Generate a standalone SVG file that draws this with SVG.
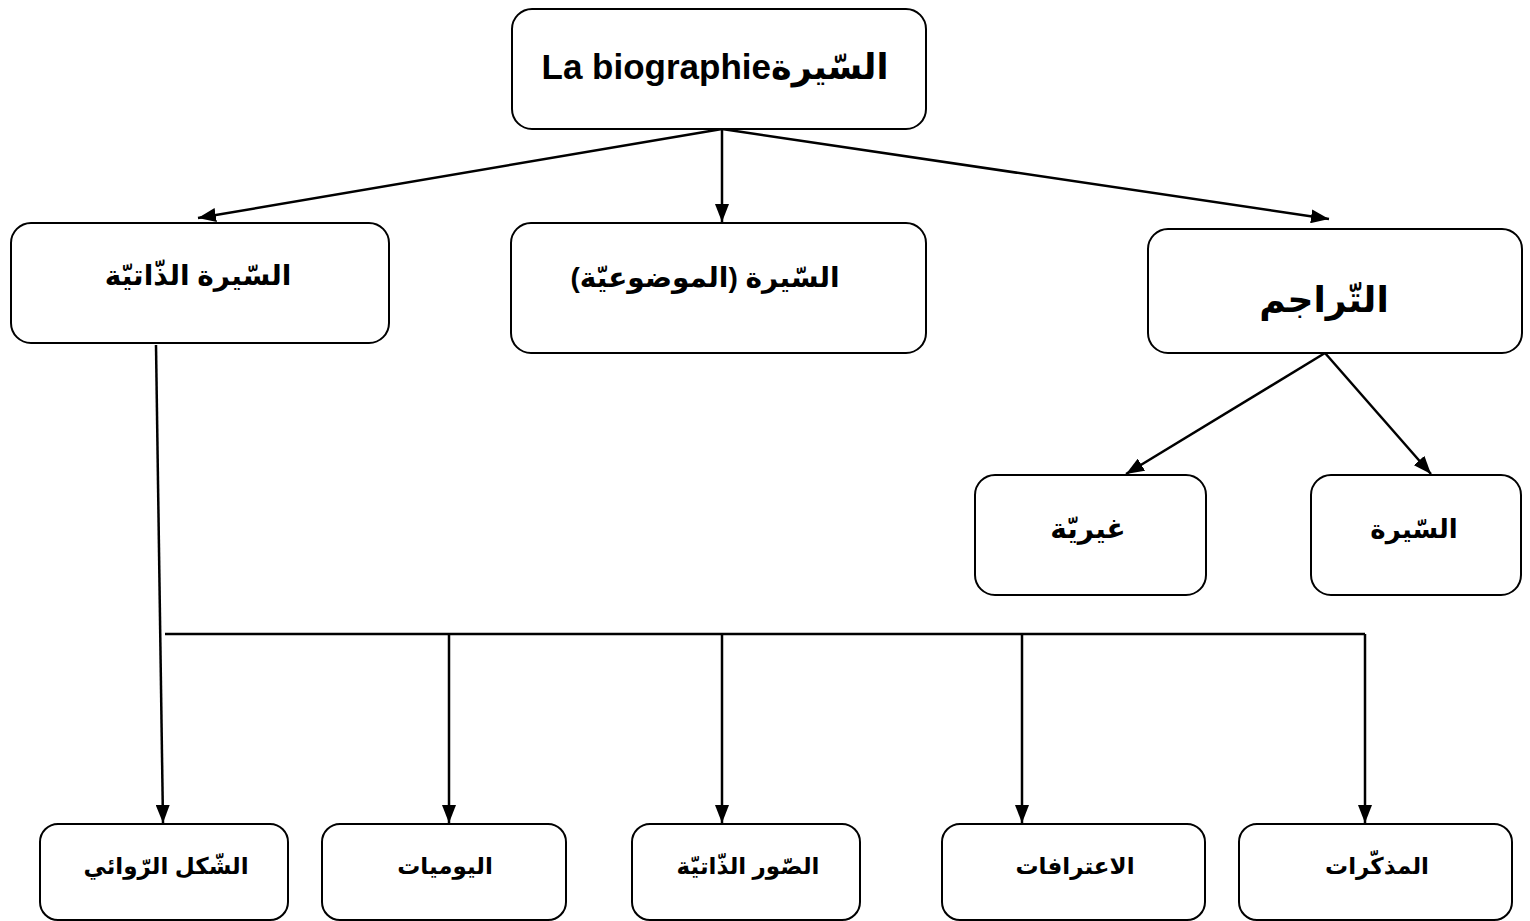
<svg xmlns="http://www.w3.org/2000/svg" width="1530" height="921" viewBox="0 0 1530 921">
<defs>
<marker id="ah" markerWidth="18" markerHeight="14" refX="18" refY="7" orient="auto" markerUnits="userSpaceOnUse" viewBox="0 0 18 14">
<path d="M0,0 L18,7 L0,14 z" fill="#000"/>
</marker>
<style>
.box{fill:#fff;stroke:#000;stroke-width:2}
.t{font-family:"Liberation Sans","DejaVu Sans",sans-serif;font-weight:bold;font-size:28px;text-anchor:middle;fill:#000}
.r{direction:rtl}
.s{font-size:23px}
.c{stroke:#000;stroke-width:2.5;fill:none}
.a{marker-end:url(#ah)}
</style>
</defs>
<rect width="1530" height="921" fill="#fff"/>
<g id="connectors">
<line class="c a" x1="722" y1="129" x2="198" y2="218"/>
<line class="c a" x1="722" y1="129" x2="722" y2="222"/>
<line class="c a" x1="722" y1="129" x2="1329" y2="219"/>
<line class="c a" x1="1325" y1="353" x2="1126" y2="474"/>
<line class="c a" x1="1325" y1="353" x2="1431" y2="474"/>
<line class="c a" x1="156" y1="345" x2="163" y2="823"/>
<line class="c" x1="165" y1="634" x2="1365" y2="634"/>
<line class="c a" x1="449" y1="634" x2="449" y2="823"/>
<line class="c a" x1="722" y1="634" x2="722" y2="823"/>
<line class="c a" x1="1022" y1="634" x2="1022" y2="823"/>
<line class="c a" x1="1365" y1="634" x2="1365" y2="823"/>
</g>
<g id="n-root"><rect class="box" x="512" y="9" width="414" height="120" rx="20"/><text class="t" x="715" y="79" style="font-size:35px">La biographieالسّيرة</text></g>
<g id="n-auto"><rect class="box" x="11" y="223" width="378" height="120" rx="20"/><text class="t r" x="198" y="285">السّيرة الذّاتيّة</text></g>
<g id="n-obj"><rect class="box" x="511" y="223" width="415" height="130" rx="20"/><text class="t r" x="705" y="287">السّيرة (الموضوعيّة)</text></g>
<g id="n-tarajim"><rect class="box" x="1148" y="229" width="374" height="124" rx="20"/><text class="t r" x="1324" y="312" style="font-size:36px">التّراجم</text></g>
<g id="n-ghayr"><rect class="box" x="975" y="475" width="231" height="120" rx="20"/><text class="t r" x="1088" y="538">غيريّة</text></g>
<g id="n-sira"><rect class="box" x="1311" y="475" width="210" height="120" rx="20"/><text class="t r" x="1414" y="538" style="font-size:26px">السّيرة</text></g>
<g id="n-riwai"><rect class="box" x="40" y="824" width="248" height="96" rx="18"/><text class="t r s" x="166" y="874">الشّكل الرّوائي</text></g>
<g id="n-yawm"><rect class="box" x="322" y="824" width="244" height="96" rx="18"/><text class="t r s" x="445" y="874">اليوميات</text></g>
<g id="n-suwar"><rect class="box" x="632" y="824" width="228" height="96" rx="18"/><text class="t r s" x="748" y="874">الصّور الذّاتيّة</text></g>
<g id="n-itiraf"><rect class="box" x="942" y="824" width="263" height="96" rx="18"/><text class="t r s" x="1075" y="874">الاعترافات</text></g>
<g id="n-mudh"><rect class="box" x="1239" y="824" width="273" height="96" rx="18"/><text class="t r s" x="1377" y="874">المذكّرات</text></g>
</svg>
